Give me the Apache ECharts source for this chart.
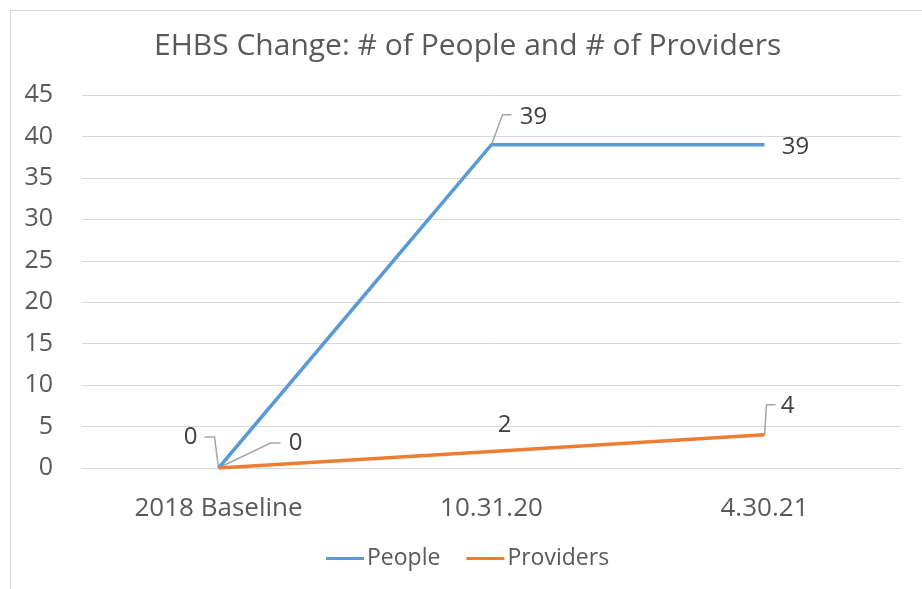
<!DOCTYPE html>
<html><head><meta charset="utf-8">
<script src="https://cdn.jsdelivr.net/npm/echarts@6/dist/echarts.min.js"></script>
<style>html,body{margin:0;padding:0;background:#fff}#c{width:922px;height:589px}</style>
</head><body><div id="c"></div>
<script>
const categories = ['2018 Baseline', '10.31.20', '4.30.21'];
const people = [0, 39, 39];
const providers = [0, 2, 4];
const seriesNames = ['People', 'Providers'];
const titleText = 'EHBS Change: # of People and # of Providers';

// label offsets (dx, dy) per series / point
const labelOffsets = [
  [[-28, -31], [42, -28], [31, 2]],
  [[77, -25], [13, -26], [23, -29]]
];
// leader elbows: [bendDx, bendDy, endDx] relative to data point, null = no leader
const leaders = [
  [[-4, -31, -14], [11, -30, 20], null],
  [[52, -25, 62], null, [2, -30, 11]]
];

const chart = echarts.init(document.getElementById('c'));
const font = "'Open Sans',sans-serif";
const lbl = {show: true, color: '#404040', fontSize: 24, fontFamily: font, position: 'inside'};
function mkSeries(idx, data, color) {
  return {name: seriesNames[idx], type: 'line', data: data, showSymbol: true, symbol: 'circle', symbolSize: 0.01,
    lineStyle: {color: color, width: 3.5}, itemStyle: {color: color}, label: lbl, z: 3};
}
chart.setOption({
  animation: false,
  title: {text: titleText, left: 149, top: 26, textStyle: {fontSize: 30, fontWeight: 'normal', color: '#595959', fontFamily: font}},
  legend: {bottom: 14, left: 321, itemWidth: 38, itemHeight: 3, itemGap: 26, icon: 'rect',
    textStyle: {color: '#595959', fontSize: 23, fontFamily: font, padding: [0, 0, 0, -2]}},
  grid: {left: 82, right: 21, top: 95, bottom: 121},
  xAxis: {type: 'category', data: categories, boundaryGap: true,
    axisLine: {lineStyle: {color: '#d9d9d9'}}, axisTick: {show: false},
    axisLabel: {color: '#595959', fontSize: 26, margin: 28, fontFamily: font}},
  yAxis: {type: 'value', min: 0, max: 45, interval: 5,
    axisLine: {show: false}, axisTick: {show: false},
    splitLine: {lineStyle: {color: '#d9d9d9', width: 1}},
    axisLabel: {color: '#595959', fontSize: 25, margin: 29, fontFamily: font}},
  labelLayout: function (p) {
    const o = labelOffsets[p.seriesIndex][p.dataIndex];
    return {dx: o[0], dy: o[1]};
  },
  series: [mkSeries(0, people, '#5B9BD5'), mkSeries(1, providers, '#ED7D31')]
});

const allData = [people, providers];
const graphics = [{type: 'rect', shape: {x: 10.5, y: 10.5, width: 940, height: 620}, style: {fill: 'none', stroke: '#d9d9d9', lineWidth: 1}}];
leaders.forEach(function (row, s) {
  row.forEach(function (l, i) {
    if (!l) return;
    const p = chart.convertToPixel({seriesIndex: s}, [i, allData[s][i]]);
    graphics.push({type: 'polyline', z: 2, shape: {points: [p, [p[0] + l[0], p[1] + l[1]], [p[0] + l[2], p[1] + l[1]]]},
      style: {fill: 'none', stroke: '#a6a6a6', lineWidth: 1.5}});
  });
});
chart.setOption({graphic: graphics});
</script></body></html>
